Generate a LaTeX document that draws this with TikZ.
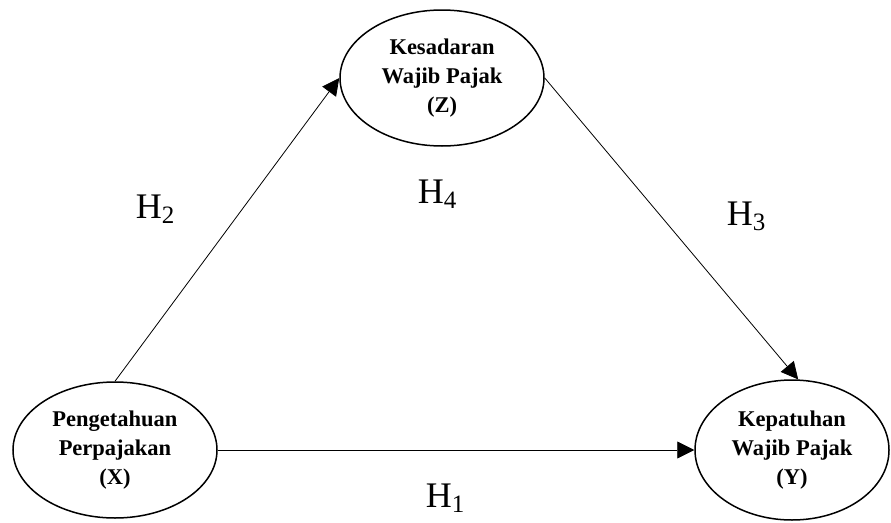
\documentclass[tikz,border=0pt]{standalone}
\usepackage{fontspec}
\setmainfont{Liberation Serif}
\usepackage{tikz}
\usetikzlibrary{shapes.geometric,arrows.meta}

\newcommand{\hyplabel}[1]{H\raisebox{-5pt}{\fontsize{25}{25}\selectfont #1}}

\begin{document}
\begin{tikzpicture}[x=1pt,y=-1pt,
   var/.style={draw,ellipse,line width=1.5pt,inner sep=0pt,minimum width=204pt,minimum height=136pt,
      align=center,font=\fontsize{22.5}{29}\selectfont\bfseries},
   link/.style={line width=0.8pt,-{Triangle[length=17pt,width=17pt]}},
   hyp/.style={anchor=base,font=\fontsize{36}{40}\selectfont}]
   \useasboundingbox (0,0) rectangle (891,522);

   \node[var] (X) at (115,450) {Pengetahuan\\Perpajakan\\(X)};
   \node[var] (Z) at (442,78) {Kesadaran\\Wajib Pajak\\(Z)};
   \node[var,minimum width=194pt,minimum height=140pt] (Y) at (792,450) {Kepatuhan\\Wajib Pajak\\(Y)};

   \draw[link] (X.north) -- (Z.west);
   \draw[link] (Z.east) -- (Y.85);
   \draw[link] (X.east) -- (Y.west);

   \node[hyp] (H1) at (445,507) {\hyplabel{1}};
   \node[hyp] (H2) at (155,218) {\hyplabel{2}};
   \node[hyp] (H3) at (746,225) {\hyplabel{3}};
   \node[hyp] (H4) at (437,203) {\hyplabel{4}};

\end{tikzpicture}
\end{document}
